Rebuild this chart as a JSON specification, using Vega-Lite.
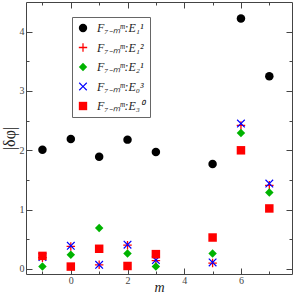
{
  "$schema": "https://vega.github.io/schema/vega-lite/v6.json",
  "width": 266,
  "height": 272,
  "autosize": {"type": "none"},
  "padding": {"left": 26, "top": 2, "right": 2, "bottom": 20},
  "config": {
    "view": {"stroke": null},
    "axis": {
      "grid": false,
      "domainColor": "#444",
      "domainWidth": 1,
      "tickColor": "#444",
      "tickWidth": 1,
      "labelFont": "Liberation Serif",
      "labelFontSize": 10,
      "labelColor": "#444",
      "titleFont": "Liberation Serif",
      "titleFontWeight": "normal",
      "titleColor": "#222"
    }
  },
  "data": {
    "values": [
      {"m": -1, "v": 2.01, "s": "F₇₋ₘᵐ:E₁¹"},
      {"m": 0, "v": 2.19, "s": "F₇₋ₘᵐ:E₁¹"},
      {"m": 1, "v": 1.89, "s": "F₇₋ₘᵐ:E₁¹"},
      {"m": 2, "v": 2.18, "s": "F₇₋ₘᵐ:E₁¹"},
      {"m": 3, "v": 1.97, "s": "F₇₋ₘᵐ:E₁¹"},
      {"m": 5, "v": 1.77, "s": "F₇₋ₘᵐ:E₁¹"},
      {"m": 6, "v": 4.22, "s": "F₇₋ₘᵐ:E₁¹"},
      {"m": 7, "v": 3.25, "s": "F₇₋ₘᵐ:E₁¹"},
      {"m": -1, "v": 0.19, "s": "F₇₋ₘᵐ:E₁²"},
      {"m": 0, "v": 0.38, "s": "F₇₋ₘᵐ:E₁²"},
      {"m": 1, "v": 0.07, "s": "F₇₋ₘᵐ:E₁²"},
      {"m": 2, "v": 0.4, "s": "F₇₋ₘᵐ:E₁²"},
      {"m": 3, "v": 0.14, "s": "F₇₋ₘᵐ:E₁²"},
      {"m": 5, "v": 0.1, "s": "F₇₋ₘᵐ:E₁²"},
      {"m": 6, "v": 2.42, "s": "F₇₋ₘᵐ:E₁²"},
      {"m": 7, "v": 1.41, "s": "F₇₋ₘᵐ:E₁²"},
      {"m": -1, "v": 0.04, "s": "F₇₋ₘᵐ:E₂¹"},
      {"m": 0, "v": 0.24, "s": "F₇₋ₘᵐ:E₂¹"},
      {"m": 1, "v": 0.69, "s": "F₇₋ₘᵐ:E₂¹"},
      {"m": 2, "v": 0.26, "s": "F₇₋ₘᵐ:E₂¹"},
      {"m": 3, "v": 0.04, "s": "F₇₋ₘᵐ:E₂¹"},
      {"m": 5, "v": 0.26, "s": "F₇₋ₘᵐ:E₂¹"},
      {"m": 6, "v": 2.29, "s": "F₇₋ₘᵐ:E₂¹"},
      {"m": 7, "v": 1.29, "s": "F₇₋ₘᵐ:E₂¹"},
      {"m": -1, "v": 0.2, "s": "F₇₋ₘᵐ:E₀³"},
      {"m": 0, "v": 0.39, "s": "F₇₋ₘᵐ:E₀³"},
      {"m": 1, "v": 0.07, "s": "F₇₋ₘᵐ:E₀³"},
      {"m": 2, "v": 0.41, "s": "F₇₋ₘᵐ:E₀³"},
      {"m": 3, "v": 0.15, "s": "F₇₋ₘᵐ:E₀³"},
      {"m": 5, "v": 0.11, "s": "F₇₋ₘᵐ:E₀³"},
      {"m": 6, "v": 2.45, "s": "F₇₋ₘᵐ:E₀³"},
      {"m": 7, "v": 1.44, "s": "F₇₋ₘᵐ:E₀³"},
      {"m": -1, "v": 0.22, "s": "F₇₋ₘᵐ:E₃⁰"},
      {"m": 0, "v": 0.04, "s": "F₇₋ₘᵐ:E₃⁰"},
      {"m": 1, "v": 0.34, "s": "F₇₋ₘᵐ:E₃⁰"},
      {"m": 2, "v": 0.05, "s": "F₇₋ₘᵐ:E₃⁰"},
      {"m": 3, "v": 0.25, "s": "F₇₋ₘᵐ:E₃⁰"},
      {"m": 5, "v": 0.53, "s": "F₇₋ₘᵐ:E₃⁰"},
      {"m": 6, "v": 2.0, "s": "F₇₋ₘᵐ:E₃⁰"},
      {"m": 7, "v": 1.02, "s": "F₇₋ₘᵐ:E₃⁰"}
    ]
  },
  "layer": [
    {
      "mark": {"type": "point", "filled": true, "opacity": 1, "strokeWidth": 0},
      "encoding": {
        "x": {
          "field": "m", "type": "quantitative",
          "scale": {"domain": [-1.58, 7.8], "nice": false, "zero": false},
          "axis": {
            "orient": "bottom",
            "values": [-1, 0, 1, 2, 3, 4, 5, 6, 7],
            "labelExpr": "datum.value % 2 == 0 ? format(datum.value, 'd') : ''",
            "tickSize": {"condition": {"test": "datum.value % 2 != 0", "value": -3}, "value": -6},
            "labelPadding": 7,
            "title": "m",
            "titleFontStyle": "italic",
            "titleFontSize": 14,
            "titlePadding": -5
          }
        },
        "y": {
          "field": "v", "type": "quantitative",
          "scale": {"domain": [-0.085, 4.5], "nice": false, "zero": false},
          "axis": {
            "orient": "left",
            "values": [0, 0.5, 1, 1.5, 2, 2.5, 3, 3.5, 4],
            "labelExpr": "datum.value % 1 == 0 ? format(datum.value, 'd') : ''",
            "tickSize": {"condition": {"test": "datum.value % 1 != 0", "value": -3}, "value": -6},
            "labelPadding": 8,
            "title": "|δφ|",
            "titleFontSize": 16,
            "titlePadding": 2
          }
        },
        "color": {
          "field": "s", "type": "nominal",
          "scale": {
            "domain": ["F₇₋ₘᵐ:E₁¹", "F₇₋ₘᵐ:E₁²", "F₇₋ₘᵐ:E₂¹", "F₇₋ₘᵐ:E₀³", "F₇₋ₘᵐ:E₃⁰"],
            "range": ["#000000", "#ff0000", "#00b300", "#0000ff", "#ff0000"]
          },
          "legend": {
            "orient": "none", "legendX": 46, "legendY": 15,
            "title": null,
            "fillColor": "white", "strokeColor": "#666",
            "padding": 5,
            "labelFont": "Liberation Serif", "labelFontStyle": "italic",
            "labelFontSize": 12, "labelColor": "#222", "labelOffset": 8,
            "rowPadding": 7.5, "symbolSize": 70, "symbolStrokeWidth": 0
          }
        },
        "shape": {
          "field": "s", "type": "nominal",
          "scale": {
            "domain": ["F₇₋ₘᵐ:E₁¹", "F₇₋ₘᵐ:E₁²", "F₇₋ₘᵐ:E₂¹", "F₇₋ₘᵐ:E₀³", "F₇₋ₘᵐ:E₃⁰"],
            "range": [
              "circle",
              "M-1,-0.15H-0.15V-1H0.15V-0.15H1V0.15H0.15V1H-0.15V0.15H-1Z",
              "diamond",
              "M-1,-0.8L-0.8,-1L0,-0.2L0.8,-1L1,-0.8L0.2,0L1,0.8L0.8,1L0,0.2L-0.8,1L-1,0.8L-0.2,0Z",
              "square"
            ]
          },
          "legend": {
            "orient": "none", "legendX": 46, "legendY": 15,
            "title": null,
            "fillColor": "white", "strokeColor": "#666",
            "padding": 5,
            "labelFont": "Liberation Serif", "labelFontStyle": "italic",
            "labelFontSize": 12, "labelColor": "#222", "labelOffset": 8,
            "rowPadding": 7.5, "symbolSize": 70, "symbolStrokeWidth": 0
          }
        },
        "size": {"value": 72}
      }
    },
    {
      "mark": {"type": "point", "opacity": 0},
      "encoding": {
        "x": {
          "field": "m", "type": "quantitative",
          "axis": {
            "orient": "top",
            "values": [-1, 0, 1, 2, 3, 4, 5, 6, 7],
            "labels": false,
            "tickSize": {"condition": {"test": "datum.value % 2 != 0", "value": -3}, "value": -6},
            "title": null
          }
        },
        "y": {
          "field": "v", "type": "quantitative",
          "axis": {
            "orient": "right",
            "values": [0, 0.5, 1, 1.5, 2, 2.5, 3, 3.5, 4],
            "labels": false,
            "tickSize": {"condition": {"test": "datum.value % 1 != 0", "value": -3}, "value": -6},
            "title": null
          }
        }
      }
    }
  ],
  "resolve": {"axis": {"x": "independent", "y": "independent"}}
}
